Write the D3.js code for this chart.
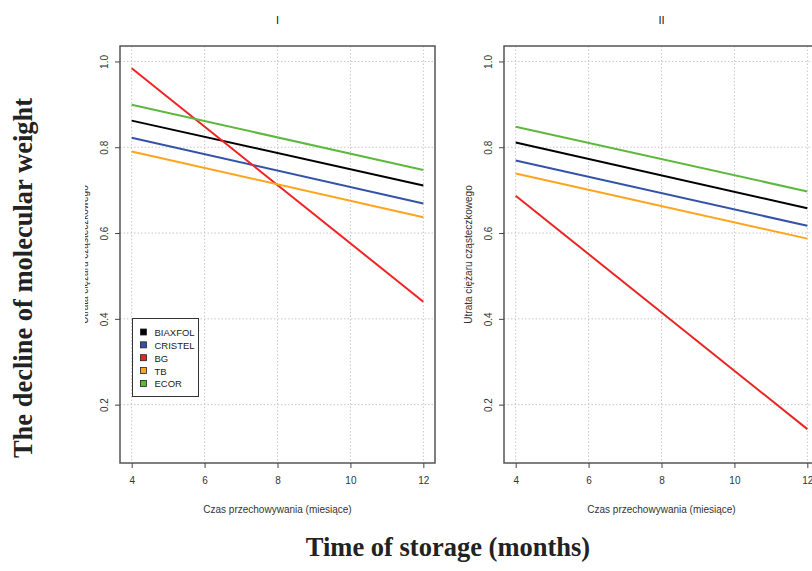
<!DOCTYPE html>
<html>
<head>
<meta charset="utf-8">
<script src="https://cdn.jsdelivr.net/npm/d3@7"></script>
<style>
  body { margin: 0; background: #fff; }
  svg { display: block; }
  text { font-family: "Liberation Sans", Arial, sans-serif; }
  .big { font-family: "Liberation Serif", "Times New Roman", serif; font-weight: bold; font-size: 26.5px; fill: #222; }
</style>
</head>
<body>
<div id="chart"></div>
<script>
var width = 812,
  height = 571;

// data
const months = [4, 12];
const seriesNames = ["BIAXFOL", "CRISTEL", "BG", "TB", "ECOR"];
const seriesColors = ["#000000", "#3353A8", "#EE2424", "#FFA41C", "#5EB83E"];
const panelTitles = ["I", "II"];
// value at 4 and at 12 months, one pair per series
const panelI = [[0.862, 0.711], [0.822, 0.669], [0.984, 0.440], [0.790, 0.637], [0.899, 0.747]];
const panelII = [[0.811, 0.658], [0.769, 0.617], [0.687, 0.143], [0.739, 0.587], [0.848, 0.697]];
const xTicks = [4, 6, 8, 10, 12];
const yTicks = [0.2, 0.4, 0.6, 0.8, 1.0];

var svg = d3.select("#chart").append("svg")
  .attr("width", width)
  .attr("height", height);

// left panel's y label is cut off in the original
svg.append("defs").append("clipPath")
  .attr("id", "leftclip")
  .append("rect")
  .attr("x", 85).attr("y", 0).attr("width", 40).attr("height", height);

function drawPanel(offset, title, values, clipLabel) {
  var x = d3.scaleLinear().domain([3.68, 12.32]).range([120 + offset, 435 + offset]);
  var y = d3.scaleLinear().domain([0.064, 1.036]).range([463, 46]);
  var g = svg.append("g");

  // grid
  g.selectAll(".vgrid").data(xTicks).enter().append("line")
    .attr("x1", d => x(d)).attr("x2", d => x(d))
    .attr("y1", 46).attr("y2", 463)
    .attr("stroke", "#c8c8c8").attr("stroke-dasharray", "1.5,2");
  g.selectAll(".hgrid").data(yTicks).enter().append("line")
    .attr("x1", x.range()[0]).attr("x2", x.range()[1])
    .attr("y1", d => y(d)).attr("y2", d => y(d))
    .attr("stroke", "#c8c8c8").attr("stroke-dasharray", "1.5,2");

  // lines
  var line = d3.line().x((d, i) => x(months[i])).y(d => y(d));
  g.selectAll(".series").data(values).enter().append("path")
    .attr("d", d => line(d))
    .attr("fill", "none")
    .attr("stroke", (d, i) => seriesColors[i])
    .attr("stroke-width", 2);

  // box
  g.append("rect")
    .attr("x", x.range()[0]).attr("y", 46)
    .attr("width", x.range()[1] - x.range()[0]).attr("height", 463 - 46)
    .attr("fill", "none").attr("stroke", "#555").attr("stroke-width", 1.5);

  // axes
  var xAxis = g.append("g").attr("transform", "translate(0,463)")
    .call(d3.axisBottom(x).tickValues(xTicks).tickSize(5).tickPadding(9));
  var yAxis = g.append("g").attr("transform", "translate(" + x.range()[0] + ",0)")
    .call(d3.axisLeft(y).tickValues(yTicks).tickSize(5).tickFormat(d3.format(".1f")));
  [xAxis, yAxis].forEach(a => {
    a.select(".domain").remove();
    a.selectAll(".tick line").attr("stroke", "#444");
    a.selectAll(".tick text").attr("fill", "#333").style("font-size", "10px")
      .style("font-family", "'Liberation Sans Narrow', 'Liberation Sans', sans-serif");
  });
  yAxis.selectAll(".tick text")
    .attr("x", null).attr("dy", null)
    .attr("text-anchor", "middle")
    .attr("transform", "translate(-12,0) rotate(-90)")
    .attr("y", 0);

  // titles
  var cx = x((3.68 + 12.32) / 2);
  g.append("text")
    .attr("x", cx).attr("y", 24)
    .attr("text-anchor", "middle").style("font-size", "11px").attr("fill", "#111")
    .text(title);
  g.append("text")
    .attr("x", cx).attr("y", 513)
    .attr("text-anchor", "middle").style("font-size", "10px").attr("fill", "#333")
    .text("Czas przechowywania (miesiące)");
  var lg = g.append("g");
  if (clipLabel) lg.attr("clip-path", "url(#leftclip)");
  lg.append("text")
    .attr("transform", "translate(" + (offset + 88) + "," + 254.5 + ") rotate(-90)")
    .attr("text-anchor", "middle").style("font-size", "10px").attr("fill", "#333")
    .text("Utrata ciężaru cząsteczkowego");
}

drawPanel(0, panelTitles[0], panelI, true);
drawPanel(384, panelTitles[1], panelII, false);

// legend
var legend = svg.append("g").attr("transform", "translate(132.5,318.5)");
legend.append("rect")
  .attr("width", 66).attr("height", 78)
  .attr("fill", "#fff").attr("stroke", "#333");
var item = legend.selectAll(".item").data(seriesNames).enter().append("g")
  .attr("transform", (d, i) => "translate(0," + (14 + i * 12.85) + ")");
item.append("rect")
  .attr("x", 8).attr("y", -3.5).attr("width", 6).attr("height", 6)
  .attr("fill", (d, i) => seriesColors[i]).attr("stroke", "#222").attr("stroke-width", 0.8);
item.append("text")
  .attr("x", 22).attr("y", 3.5)
  .style("font-size", "9.5px").attr("fill", "#222")
  .text(d => d);

// big labels
svg.append("text").attr("class", "big")
  .attr("transform", "translate(32,278) rotate(-90)")
  .attr("text-anchor", "middle")
  .text("The decline of molecular weight");
svg.append("text").attr("class", "big")
  .attr("x", 448).attr("y", 556)
  .attr("text-anchor", "middle")
  .text("Time of storage (months)");
</script>
</body>
</html>
